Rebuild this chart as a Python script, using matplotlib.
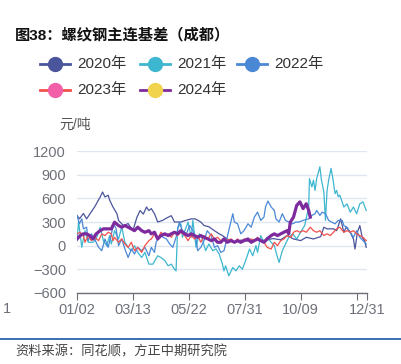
import matplotlib
matplotlib.use("Agg")
import matplotlib.pyplot as plt
from matplotlib.lines import Line2D

plt.rcParams['font.family'] = ['Liberation Sans', 'Noto Sans CJK SC', 'DejaVu Sans']

# ---- data (day offset from 01/02, value in 元/吨) ----
tick_days = [0, 70, 140, 210, 280, 350, 363]
tick_labels = ['01/02', '03/13', '05/22', '07/31', '10/09', '', '12/31']

d2020 = [0, 3, 8, 12, 16, 22, 29, 32, 35, 39, 41, 45, 50, 52, 58, 64, 70, 75, 79, 83, 87, 90,
         93, 97, 101, 107, 114, 118, 122, 130, 136, 143, 148, 155, 159, 165, 172, 178, 182,
         188, 196, 205, 215, 225, 235, 245, 255, 263, 271, 280, 287, 296, 305, 309, 313, 321,
         325, 330, 334, 337, 342, 346, 348, 351, 354, 357, 360, 362]
v2020 = [383, 340, 408, 340, 400, 490, 617, 680, 617, 640, 575, 490, 405, 320, 255, 280, 190, 360,
         445, 400, 490, 445, 470, 405, 300, 320, 360, 380, 300, 300, 320, 340, 340, 300, 255,
         240, 190, 150, 128, 85, 43, 70, 55, 80, 65, 90, 75, 128, 85, 64, 106, 85, 115, 234,
         213, 213, 190, 340, 170, 234, 170, 85, -43, 170, 255, 106, 64, -21]

d2021 = [0, 2, 6, 10, 14, 20, 24, 29, 33, 37, 41, 43, 47, 52, 56, 60, 64, 68, 72, 76, 81, 85,
         90, 95, 101, 105, 110, 114, 118, 122, 124, 126, 130, 132, 135, 139, 143, 145, 149,
         153, 157, 161, 165, 170, 174, 178, 182, 184, 186, 190, 195, 199, 203, 207, 211, 216,
         220, 224, 226, 230, 234, 238, 243, 247, 251, 253, 257, 261, 265, 270, 275, 281, 285,
         290, 291, 294, 296, 298, 300, 304, 306, 309, 311, 313, 315, 318, 320, 323, 325, 327,
         329, 334, 338, 342, 346, 350, 354, 358, 362]
v2021 = [60, 300, -20, 190, 43, 43, 85, 234, 64, 0, 128, 21, 190, 85, 234, 43, -20, -64, 0, -85,
         -150, -85, -234, -234, -128, -150, -190, -255, -234, -298, -320, 234, 277, 106, 190,
         298, 106, 320, -21, 150, 85, -64, 21, -64, -40, -106, -234, -320, -255, -383, -277,
         -320, -255, -298, -190, -43, -128, 0, -85, 128, 43, 106, 43, 0, -150, -213, -64, 21,
         106, 150, 85, 190, 255, 490, 850, 745, 830, 700, 850, 1000, 830, 680, 320, 700, 830,
         980, 870, 660, 700, 620, 640, 490, 530, 425, 490, 405, 530, 555, 447]

d2022 = [0, 3, 6, 8, 12, 14, 18, 22, 27, 31, 35, 39, 43, 46, 49, 52, 56, 60, 64, 68, 72, 76,
         81, 85, 90, 93, 97, 99, 104, 108, 112, 116, 120, 124, 128, 132, 137, 141, 145, 149,
         151, 155, 159, 163, 168, 172, 176, 180, 184, 188, 193, 195, 197, 201, 205, 209, 214,
         218, 222, 226, 230, 234, 236, 239, 243, 247, 249, 253, 257, 261, 265, 270, 274, 277,
         283, 290, 294, 298, 300, 304, 307, 311, 315, 319, 323, 327, 332, 334, 338, 342, 346,
         350, 354, 358, 362]
v2022 = [383, 277, 340, 213, 234, 64, 150, 85, -21, -64, 85, -21, 150, 277, 213, 0, 85, -43,
         -150, -43, -106, -21, -64, -21, -128, -21, -85, 43, 128, 106, 85, 21, -21, 106, 298,
         190, 150, 255, 190, 85, -64, -21, 64, 190, 128, -21, 0, -85, -64, 106, 320, 405, 300,
         277, 150, 190, 277, 234, 362, 425, 320, 362, 490, 566, 490, 447, 340, 300, 405, 320,
         300, 277, 300, 298, 320, 340, 383, 405, 447, 383, 425, 405, 320, 298, 277, 320, 320,
         255, 234, 170, 106, 190, 106, 64, 21]

d2023 = [0, 4, 8, 10, 14, 18, 22, 27, 31, 35, 39, 43, 45, 47, 52, 56, 60, 64, 68, 72, 76, 81,
         85, 90, 93, 97, 101, 105, 110, 114, 118, 122, 126, 130, 135, 139, 143, 147, 151, 155,
         159, 164, 168, 172, 176, 180, 186, 193, 197, 201, 205, 209, 214, 218, 222, 226, 230,
         234, 238, 243, 247, 251, 255, 259, 263, 268, 271, 275, 279, 283, 287, 292, 296, 300,
         304, 309, 313, 317, 321, 325, 329, 334, 338, 342, 346, 350, 354, 358, 362]
v2023 = [150, 170, 128, 43, 128, 64, 106, 64, 150, 128, 170, 150, 64, 106, 43, 85, 21, -21, 43,
         -64, -21, -85, 0, 64, 85, 150, 85, 170, 128, 150, 106, 170, 128, 170, 128, 64, 128, 85,
         128, 43, 128, 85, 150, 85, 106, 64, 64, 85, 43, 85, 43, 85, 64, 85, 64, 106, 64, 43,
         -21, -43, 43, 0, 64, 85, 128, 106, 170, 190, 170, 190, 170, 234, 190, 170, 190, 128,
         150, 128, 170, 213, 234, 170, 190, 170, 190, 150, 128, 106, 64]

d2024 = [0, 4, 8, 12, 16, 20, 24, 29, 33, 37, 43, 47, 52, 56, 60, 64, 68, 72, 76, 81, 85, 90,
         93, 97, 101, 105, 110, 114, 118, 122, 126, 130, 135, 139, 143, 147, 151, 155, 159,
         164, 168, 172, 176, 180, 184, 188, 193, 197, 201, 205, 209, 214, 218, 222, 226, 230,
         234, 238, 243, 247, 251, 255, 259, 263, 265, 267, 271, 275, 279, 283, 287, 290, 292]
v2024 = [85, 128, 150, 150, 128, 85, 150, 190, 213, 213, 213, 298, 255, 234, 255, 234, 213,
         190, 234, 190, 170, 190, 150, 170, 85, 128, 150, 128, 150, 170, 150, 190, 150, 128,
         150, 128, 106, 128, 106, 85, 64, 85, 43, 43, 85, 43, 64, 43, 64, 43, 64, 85, 43, 64,
         85, 64, 43, 85, 128, 150, 128, 150, 170, 190, 150, 298, 362, 510, 555, 470, 532, 447, 362]

series = [
    ('2020年', d2020, v2020, '#4b559c', '#4b559c', 0.9),
    ('2021年', d2021, v2021, '#3db6cf', '#3db6cf', 0.9),
    ('2022年', d2022, v2022, '#4a88d6', '#4a88d6', 0.9),
    ('2023年', d2023, v2023, '#f2504b', '#f25fa8', 0.9),
    ('2024年', d2024, v2024, '#7d2a9e', '#f2d34e', 2.3),
]

W, H = 401, 364
fig = plt.figure(figsize=(W / 100, H / 100), dpi=100)
ax = fig.add_axes([77 / W, 1 - 293 / H, 290 / W, 142 / H])

for name, d, v, lc, mc, lw in series:
    ax.plot(d, v, color=lc, lw=lw, solid_joinstyle='round', zorder=3)

ax.set_xlim(0, 363)
ax.set_ylim(-600, 1200)
ax.set_yticks([-600, -300, 0, 300, 600, 900, 1200])
ax.set_yticklabels(['\u2212600', '\u2212300', '0', '300', '600', '900', '1200'])
ax.set_xticks(tick_days)
ax.set_xticklabels(tick_labels)
ax.grid(axis='y', color='#e0e6f1', lw=1.0)
ax.set_axisbelow(True)
for s in ['top', 'right', 'left']:
    ax.spines[s].set_visible(False)
ax.spines['bottom'].set_color('#6e7079')
ax.spines['bottom'].set_linewidth(1.0)
ax.tick_params(axis='y', length=0, labelsize=10.5, labelcolor='#6e7079', pad=8)
ax.tick_params(axis='x', length=5, color='#6e7079', labelsize=10.5, labelcolor='#6e7079', pad=2)

# title
fig.text(15 / W, 1 - 35 / H, '图38：螺纹钢主连基差（成都）', fontsize=11, fontweight='bold',
         color='#111111', va='center', ha='left')

# legend (manual)
leg_pos = [(40, 64), (140, 64), (237, 64), (40, 90), (140, 90)]
for (name, d, v, lc, mc, lw), (lx, ly) in zip(series, leg_pos):
    fig.add_artist(Line2D([lx / W, (lx + 30) / W], [1 - ly / H, 1 - ly / H],
                          transform=fig.transFigure, color=lc, lw=2.0))
    fig.add_artist(Line2D([(lx + 15) / W], [1 - ly / H], transform=fig.transFigure,
                          marker='o', markersize=10, color=mc, markeredgecolor=mc))
    fig.text((lx + 37) / W, 1 - ly / H, name, fontsize=11, color='#333333',
             va='center', ha='left')

# unit label
fig.text(59 / W, 1 - 125 / H, '元/吨', fontsize=10, color='#555555', va='center', ha='left')
# clipped stray label at left
fig.text(3 / W, 1 - 309 / H, '1', fontsize=10.5, color='#6e7079', va='center', ha='left')

# source line
fig.add_artist(Line2D([0, 1], [1 - 339 / H, 1 - 339 / H], transform=fig.transFigure,
                      color='#2a64a8', lw=1.3))
fig.text(15 / W, 1 - 352 / H, '资料来源：同花顺，方正中期研究院', fontsize=9.5, color='#444444',
         va='center', ha='left', style='italic')

fig.savefig('out.png', dpi=100)
